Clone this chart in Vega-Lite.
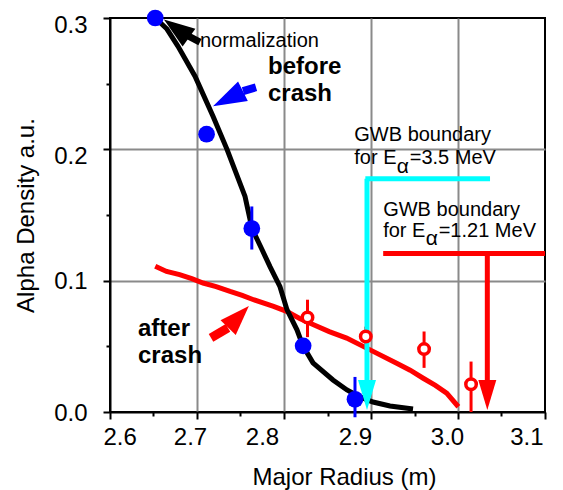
{
  "$schema": "https://vega.github.io/schema/vega-lite/v6.json",
  "width": 435,
  "height": 394,
  "autosize": {"type": "none"},
  "padding": {"left": 110, "top": 18, "right": 18, "bottom": 78},
  "background": "white",
  "config": {
    "font": "Liberation Sans",
    "view": {"stroke": "black", "strokeWidth": 2},
    "axis": {
      "domainColor": "black", "domainWidth": 2,
      "tickColor": "black", "tickWidth": 2,
      "gridColor": "#8a8a8a", "gridWidth": 2,
      "labelFont": "Liberation Sans", "labelFontSize": 24, "labelColor": "black",
      "titleFont": "Liberation Sans", "titleFontSize": 24, "titleFontWeight": "normal", "titleColor": "black"
    }
  },
  "layer": [
    {
      "data": {"values": [
        {"r": 2.652, "d": 0.111}, {"r": 2.665, "d": 0.107}, {"r": 2.68, "d": 0.1046}, {"r": 2.694, "d": 0.1015}, {"r": 2.707, "d": 0.0982},
        {"r": 2.722, "d": 0.0955}, {"r": 2.738, "d": 0.0918}, {"r": 2.752, "d": 0.0888}, {"r": 2.765, "d": 0.0855}, {"r": 2.788, "d": 0.0804}, {"r": 2.803, "d": 0.0766},
        {"r": 2.818, "d": 0.0712}, {"r": 2.834, "d": 0.0664}, {"r": 2.852, "d": 0.0612}, {"r": 2.872, "d": 0.0563}, {"r": 2.899, "d": 0.0473}, {"r": 2.9295, "d": 0.0372},
        {"r": 2.945, "d": 0.0318}, {"r": 2.96, "d": 0.0257}, {"r": 2.974, "d": 0.0202}, {"r": 2.987, "d": 0.0143}, {"r": 3.0004, "d": 0.004}
      ]},
      "mark": {"type": "line", "color": "#ff0000", "strokeWidth": 5},
      "encoding": {
        "x": {"field": "r", "type": "quantitative", "scale": {"domain": [2.6, 3.1], "nice": false, "zero": false},
          "axis": {
            "title": "Major Radius (m)",
            "values": [2.6, 2.65, 2.7, 2.75, 2.8, 2.85, 2.9, 2.95, 3.0, 3.05, 3.1],
            "labelExpr": "abs(datum.value*10 - round(datum.value*10)) > 0.01 ? '' : format(datum.value, '.1f')",
            "tickSize": {"condition": {"test": "abs(datum.value*10 - round(datum.value*10)) > 0.01", "value": 4}, "value": 7},
            "gridOpacity": {"condition": {"test": "abs(datum.value*10 - round(datum.value*10)) > 0.01 || datum.value < 2.65 || datum.value > 3.05", "value": 0}, "value": 1},
            "labelOffset": {"condition": [
              {"test": "datum.value > 2.75 && datum.value < 2.85", "value": -22},
              {"test": "datum.value > 2.85 && datum.value < 2.95", "value": -16},
              {"test": "datum.value > 2.95 && datum.value < 3.05", "value": -11},
              {"test": "datum.value > 3.05", "value": -2}
            ], "value": -7},
            "labelPadding": 6,
            "titleX": 234, "titleY": 72, "titleBaseline": "alphabetic"
          }},
        "y": {"field": "d", "type": "quantitative", "scale": {"domain": [0, 0.3], "nice": false},
          "axis": {
            "title": "Alpha Density a.u.",
            "values": [0, 0.05, 0.1, 0.15, 0.2, 0.25, 0.3],
            "labelExpr": "abs(datum.value*10 - round(datum.value*10)) > 0.01 ? '' : format(datum.value, '.1f')",
            "tickSize": {"condition": {"test": "abs(datum.value*10 - round(datum.value*10)) > 0.01", "value": 4}, "value": 7},
            "gridOpacity": {"condition": {"test": "abs(datum.value*10 - round(datum.value*10)) > 0.01 || datum.value < 0.05 || datum.value > 0.25", "value": 0}, "value": 1},
            "labelOffset": {"condition": {"test": "datum.value > 0.15", "value": 7}, "value": 1},
            "labelPadding": 16,
            "titlePadding": 15
          }}
      }
    },
    {
      "data": {"values": [
        {"r": 2.652, "d": 0.3}, {"r": 2.6655, "d": 0.2916}, {"r": 2.678, "d": 0.2786}, {"r": 2.6977, "d": 0.2557},
        {"r": 2.7184, "d": 0.2252}, {"r": 2.7345, "d": 0.2}, {"r": 2.7552, "d": 0.1641}, {"r": 2.7632, "d": 0.1397},
        {"r": 2.7747, "d": 0.1237}, {"r": 2.7839, "d": 0.1107}, {"r": 2.7954, "d": 0.0954}, {"r": 2.8034, "d": 0.0779},
        {"r": 2.8149, "d": 0.0626}, {"r": 2.8218, "d": 0.0504}, {"r": 2.8333, "d": 0.0374}, {"r": 2.8563, "d": 0.0244},
        {"r": 2.8724, "d": 0.0168}, {"r": 2.8874, "d": 0.0115}, {"r": 2.9023, "d": 0.0076}, {"r": 2.9218, "d": 0.0046},
        {"r": 2.9483, "d": 0.0023}
      ]},
      "mark": {"type": "line", "color": "black", "strokeWidth": 5},
      "encoding": {"x": {"field": "r", "type": "quantitative"}, "y": {"field": "d", "type": "quantitative"}}
    },
    {
      "data": {"values": [
        {"r": 2.763, "lo": 0.1237, "hi": 0.1565},
        {"r": 2.8816, "lo": -0.004, "hi": 0.0267}
      ]},
      "mark": {"type": "rule", "color": "#0000ff", "strokeWidth": 3},
      "encoding": {"x": {"field": "r", "type": "quantitative"}, "y": {"field": "lo", "type": "quantitative"}, "y2": {"field": "hi"}}
    },
    {
      "data": {"values": [
        {"r": 2.827, "lo": 0.057, "hi": 0.0855},
        {"r": 2.894, "lo": 0.05, "hi": 0.065},
        {"r": 2.961, "lo": 0.0336, "hi": 0.0613},
        {"r": 3.015, "lo": 0.0, "hi": 0.0384}
      ]},
      "mark": {"type": "rule", "color": "#ff0000", "strokeWidth": 3},
      "encoding": {"x": {"field": "r", "type": "quantitative"}, "y": {"field": "lo", "type": "quantitative"}, "y2": {"field": "hi"}}
    },
    {
      "data": {"values": [
        {"x1": 3.0368, "x2": 2.8935, "y1": 0.1776, "y2": 0.1776},
        {"x1": 2.8954, "x2": 2.8954, "y1": 0.1776, "y2": 0.024}
      ]},
      "mark": {"type": "rule", "color": "#00ffff", "strokeWidth": 5},
      "encoding": {"x": {"field": "x1", "type": "quantitative"}, "x2": {"field": "x2"}, "y": {"field": "y1", "type": "quantitative"}, "y2": {"field": "y2"}}
    },
    {
      "data": {"values": [
        {"x1": 2.914, "x2": 3.1, "y1": 0.1206, "y2": 0.1206},
        {"x1": 3.0337, "x2": 3.0337, "y1": 0.1206, "y2": 0.024}
      ]},
      "mark": {"type": "rule", "color": "#ff0000", "strokeWidth": 5},
      "encoding": {"x": {"field": "x1", "type": "quantitative"}, "x2": {"field": "x2"}, "y": {"field": "y1", "type": "quantitative"}, "y2": {"field": "y2"}}
    },
    {
      "data": {"values": [{"r": 2.8954, "d": 0.013}]},
      "mark": {"type": "point", "shape": "M0,-1L0.6,1L-0.6,1Z", "size": 900, "angle": 180, "filled": true, "color": "#00ffff", "opacity": 1},
      "encoding": {"x": {"field": "r", "type": "quantitative"}, "y": {"field": "d", "type": "quantitative"}}
    },
    {
      "data": {"values": [{"r": 3.0337, "d": 0.013}]},
      "mark": {"type": "point", "shape": "M0,-1L0.6,1L-0.6,1Z", "size": 900, "angle": 180, "filled": true, "color": "#ff0000", "opacity": 1},
      "encoding": {"x": {"field": "r", "type": "quantitative"}, "y": {"field": "d", "type": "quantitative"}}
    },
    {
      "data": {"values": [
        {"r": 2.652, "d": 0.3}, {"r": 2.711, "d": 0.2115}, {"r": 2.763, "d": 0.1397}, {"r": 2.822, "d": 0.0504}, {"r": 2.8816, "d": 0.0097}
      ]},
      "mark": {"type": "point", "shape": "circle", "size": 280, "filled": true, "color": "#0000ff", "opacity": 1},
      "encoding": {"x": {"field": "r", "type": "quantitative"}, "y": {"field": "d", "type": "quantitative"}}
    },
    {
      "data": {"values": [
        {"r": 2.827, "d": 0.072}, {"r": 2.894, "d": 0.0575}, {"r": 2.961, "d": 0.0479}, {"r": 3.015, "d": 0.0211}
      ]},
      "mark": {"type": "point", "shape": "circle", "size": 110, "filled": false, "fill": "white", "fillOpacity": 1, "stroke": "#ff0000", "strokeWidth": 3.5, "opacity": 1},
      "encoding": {"x": {"field": "r", "type": "quantitative"}, "y": {"field": "d", "type": "quantitative"}}
    },
    {
      "data": {"values": [{"x1": 2.6897, "y1": 0.2863, "x2": 2.7034, "y2": 0.2817}]},
      "mark": {"type": "rule", "color": "black", "strokeWidth": 7},
      "encoding": {"x": {"field": "x1", "type": "quantitative"}, "x2": {"field": "x2"}, "y": {"field": "y1", "type": "quantitative"}, "y2": {"field": "y2"}}
    },
    {
      "data": {"values": [{"r": 2.6764, "d": 0.292}]},
      "mark": {"type": "point", "shape": "M0,-1L0.7,1L-0.7,1Z", "size": 961, "angle": 306, "filled": true, "color": "black", "opacity": 1},
      "encoding": {"x": {"field": "r", "type": "quantitative"}, "y": {"field": "d", "type": "quantitative"}}
    },
    {
      "data": {"values": [{"x1": 2.7529, "y1": 0.2443, "x2": 2.7678, "y2": 0.2473}]},
      "mark": {"type": "rule", "color": "#0000ff", "strokeWidth": 8},
      "encoding": {"x": {"field": "x1", "type": "quantitative"}, "x2": {"field": "x2"}, "y": {"field": "y1", "type": "quantitative"}, "y2": {"field": "y2"}}
    },
    {
      "data": {"values": [{"r": 2.7356, "d": 0.2385}]},
      "mark": {"type": "point", "shape": "M0,-1L0.65,1L-0.65,1Z", "size": 1122, "angle": 243.4, "filled": true, "color": "#0000ff", "opacity": 1},
      "encoding": {"x": {"field": "r", "type": "quantitative"}, "y": {"field": "d", "type": "quantitative"}}
    },
    {
      "data": {"values": [{"x1": 2.7161, "y1": 0.0565, "x2": 2.7356, "y2": 0.0641}]},
      "mark": {"type": "rule", "color": "#ff0000", "strokeWidth": 9},
      "encoding": {"x": {"field": "x1", "type": "quantitative"}, "x2": {"field": "x2"}, "y": {"field": "y1", "type": "quantitative"}, "y2": {"field": "y2"}}
    },
    {
      "data": {"values": [{"r": 2.7477, "d": 0.0725}]},
      "mark": {"type": "point", "shape": "M0,-1L0.7,1L-0.7,1Z", "size": 900, "angle": 43.7, "filled": true, "color": "#ff0000", "opacity": 1},
      "encoding": {"x": {"field": "r", "type": "quantitative"}, "y": {"field": "d", "type": "quantitative"}}
    },
    {
      "data": {"values": [
        {"r": 2.7034, "d": 0.2779, "t": "normalization"},
        {"r": 2.8808, "d": 0.2063, "t": "GWB boundary"},
        {"r": 2.8808, "d": 0.1885, "t": "for E"},
        {"r": 2.9445, "d": 0.1885, "t": "=3.5 MeV"},
        {"r": 2.914, "d": 0.1491, "t": "GWB boundary"},
        {"r": 2.914, "d": 0.1331, "t": "for E"},
        {"r": 2.9778, "d": 0.1331, "t": "=1.21 MeV"}
      ]},
      "mark": {"type": "text", "align": "left", "baseline": "alphabetic", "fontSize": 20, "color": "black", "font": "Liberation Sans"},
      "encoding": {"x": {"field": "r", "type": "quantitative"}, "y": {"field": "d", "type": "quantitative"}, "text": {"field": "t"}}
    },
    {
      "data": {"values": [
        {"r": 2.9295, "d": 0.182, "t": "α"},
        {"r": 2.9629, "d": 0.1268, "t": "α"}
      ]},
      "mark": {"type": "text", "align": "left", "baseline": "alphabetic", "fontSize": 21, "color": "black", "font": "Liberation Sans"},
      "encoding": {"x": {"field": "r", "type": "quantitative"}, "y": {"field": "d", "type": "quantitative"}, "text": {"field": "t"}}
    },
    {
      "data": {"values": [
        {"r": 2.7816, "d": 0.2573, "t": "before"},
        {"r": 2.7816, "d": 0.2369, "t": "crash"},
        {"r": 2.6322, "d": 0.0575, "t": "after"},
        {"r": 2.6322, "d": 0.0372, "t": "crash"}
      ]},
      "mark": {"type": "text", "align": "left", "baseline": "alphabetic", "fontSize": 24, "fontWeight": "bold", "color": "black", "font": "Liberation Sans"},
      "encoding": {"x": {"field": "r", "type": "quantitative"}, "y": {"field": "d", "type": "quantitative"}, "text": {"field": "t"}}
    }
  ]
}
